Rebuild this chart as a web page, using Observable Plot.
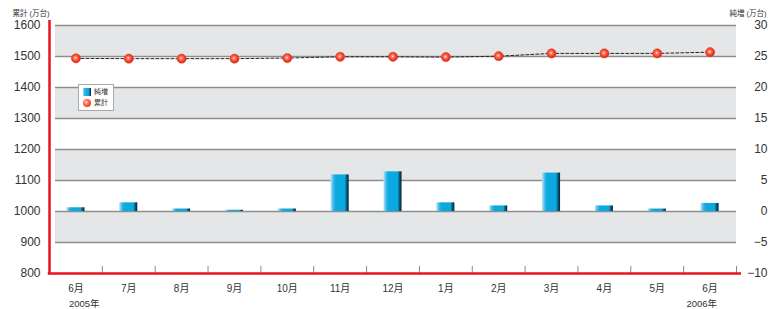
<!DOCTYPE html>
<html><head><meta charset="utf-8">
<script src="https://cdn.jsdelivr.net/npm/d3@7"></script>
<script src="https://cdn.jsdelivr.net/npm/@observablehq/plot@0.6"></script>
<style>
body{margin:0;background:#fff;}
#wrap{position:relative;width:769px;height:309px;font-family:"Liberation Sans","Noto Sans CJK JP",sans-serif;}
#legend{position:absolute;left:78px;top:84px;width:34px;height:25px;background:#fff;border:1px solid #a8a8a8;font-size:7px;color:#333;box-sizing:content-box;}
#legend .row{position:absolute;left:4px;height:10px;line-height:10px;display:flex;align-items:center;}
#legend .sw{width:8px;height:8px;margin-right:3px;background:linear-gradient(to right,#b6e3f6 0%,#2db4e6 20%,#0aa9e0 70%,#07648c 85%,#071c2a 100%);}
#legend .dot{width:8px;height:8px;border-radius:50%;margin-right:3px;background:radial-gradient(circle at 40% 40%,#ffe9dc 0%,#ff7a5c 30%,#ee3322 75%,#d9261a 100%);}
</style></head><body><div id="wrap"></div>
<script>
const months = ["6月","7月","8月","9月","10月","11月","12月","1月","2月","3月","4月","5月","6月"];
const netIncrease = [0.6,1.4,0.4,0.2,0.4,5.9,6.4,1.4,0.9,6.2,0.9,0.4,1.3];
const cumulative = [1494,1493,1493,1493,1495,1499,1499,1498,1501,1510,1510,1510,1514];
const leftTicks = [800,900,1000,1100,1200,1300,1400,1500,1600];
const rightTicks = [-10,-5,0,5,10,15,20,25,30];
const years = ["2005年","2006年"];
const yearIndex = [0,12];
const legendLabels = ["純増","累計"];
const leftTitle = "累計 (万台)";
const rightTitle = "純増 (万台)";

// right axis aligned to left axis: 0 ↔ 1000, 30 ↔ 1600
const rightToLeft = v => 1000 + v * 20;
const leftToRight = d => (d - 1000) / 20;
const fmt = v => (v < 0 ? "−" + Math.abs(v) : String(v));

const idx = d3.range(months.length);
const bands = leftTicks.filter(t => t > 800 && (t - 800) % 200 === 0);
const red = "#e8141e";

const plot = Plot.plot({
  width: 769, height: 309,
  marginLeft: 49, marginRight: 33, marginTop: 25, marginBottom: 36,
  x: {type: "linear", domain: [0, months.length], axis: null},
  y: {domain: [leftTicks[0], leftTicks[leftTicks.length - 1]], axis: null},
  style: {fontFamily: '"Liberation Sans","Noto Sans CJK JP",sans-serif', color: "#333", background: "transparent", overflow: "visible"},
  marks: [
    Plot.rect(bands, {x1: 0, x2: months.length, y1: d => d - 100, y2: d => d, fill: "#e5e6e8", insetLeft: 6}),
    Plot.ruleY(leftTicks.filter(t => t > 800), {x1: 0, x2: months.length, stroke: "#8e8e8e", strokeWidth: 1.3, insetLeft: 6}),
    Plot.rectY(idx, {x1: i => i, x2: i => i + 1, y1: rightToLeft(0), y2: i => rightToLeft(netIncrease[i]), insetLeft: 17.4, insetRight: 17.4, fill: "url(#barGrad)"}),
    Plot.line(idx, {x: i => i + 0.5, y: i => cumulative[i], stroke: "#222", strokeWidth: 1, strokeDasharray: "3,2"}),
    Plot.dot(idx, {x: i => i + 0.5, y: i => cumulative[i], r: 4.6, fill: "url(#dotGrad)", stroke: "#e53a26", strokeWidth: 0.5}),
    Plot.ruleX(d3.range(1, months.length + 1), {y1: 800, y2: 800, insetBottom: 7, stroke: "#888", strokeWidth: 1}),
    Plot.ruleX([0], {y1: 1600, y2: 800, insetTop: -5, insetBottom: -1.25, stroke: red, strokeWidth: 2.5}),
    Plot.ruleY([800], {x1: 0, x2: months.length, insetRight: -5, insetLeft: -1.25, stroke: red, strokeWidth: 2.5}),
    Plot.axisY({anchor: "left", ticks: leftTicks, tickSize: 0, tickPadding: 9, fontSize: 12, tickFormat: d => String(d)}),
    Plot.axisY({anchor: "right", ticks: rightTicks.map(rightToLeft), tickSize: 0, tickPadding: 31, textAnchor: "end", fontSize: 12, tickFormat: d => fmt(leftToRight(d))}),
    Plot.axisX({ticks: idx.map(i => i + 0.5), tickSize: 0, tickPadding: 11, fontSize: 10, tickFormat: t => months[Math.floor(t)]}),
    Plot.text([yearIndex[0]], {x: i => i + 0.5, y: 800, text: () => years[0], textAnchor: "start", dy: 30, dx: -7, fontSize: 9.5}),
    Plot.text([yearIndex[1]], {x: i => i + 0.5, y: 800, text: () => years[1], textAnchor: "end", dy: 30, dx: 7, fontSize: 9.5}),
    Plot.text([leftTitle], {frameAnchor: "top-left", text: d => d, textAnchor: "start", dx: -37, dy: -15, fontSize: 7.5}),
    Plot.text([rightTitle], {frameAnchor: "top-right", text: d => d, textAnchor: "end", dx: 30, dy: -15, fontSize: 7.5})
  ]
});

const defs = d3.select(plot).insert("defs", ":first-child");
const bg = defs.append("linearGradient").attr("id", "barGrad").attr("x1", 0).attr("x2", 1).attr("y1", 0).attr("y2", 0);
[[0,"#b6e3f6"],[0.18,"#2db4e6"],[0.3,"#0aa9e0"],[0.78,"#0aa9e0"],[0.87,"#07648c"],[1,"#071c2a"]]
  .forEach(([o,c]) => bg.append("stop").attr("offset", o).attr("stop-color", c));
const dg = defs.append("radialGradient").attr("id", "dotGrad").attr("cx", 0.45).attr("cy", 0.45).attr("r", 0.55);
[[0,"#fff0e6"],[0.3,"#ff7a5c"],[0.75,"#ee3322"],[1,"#d9261a"]]
  .forEach(([o,c]) => dg.append("stop").attr("offset", o).attr("stop-color", c));

const wrap = document.getElementById("wrap");
wrap.appendChild(plot);
plot.style.position = "absolute"; plot.style.left = "0"; plot.style.top = "0";

const legend = document.createElement("div");
legend.id = "legend";
legendLabels.forEach((lab, k) => {
  const row = document.createElement("div");
  row.className = "row";
  row.style.top = (2 + k * 11) + "px";
  const sw = document.createElement("span");
  sw.className = k === 0 ? "sw" : "dot";
  const tx = document.createElement("span");
  tx.textContent = lab;
  row.appendChild(sw); row.appendChild(tx);
  legend.appendChild(row);
});
wrap.appendChild(legend);
</script>
</body></html>
